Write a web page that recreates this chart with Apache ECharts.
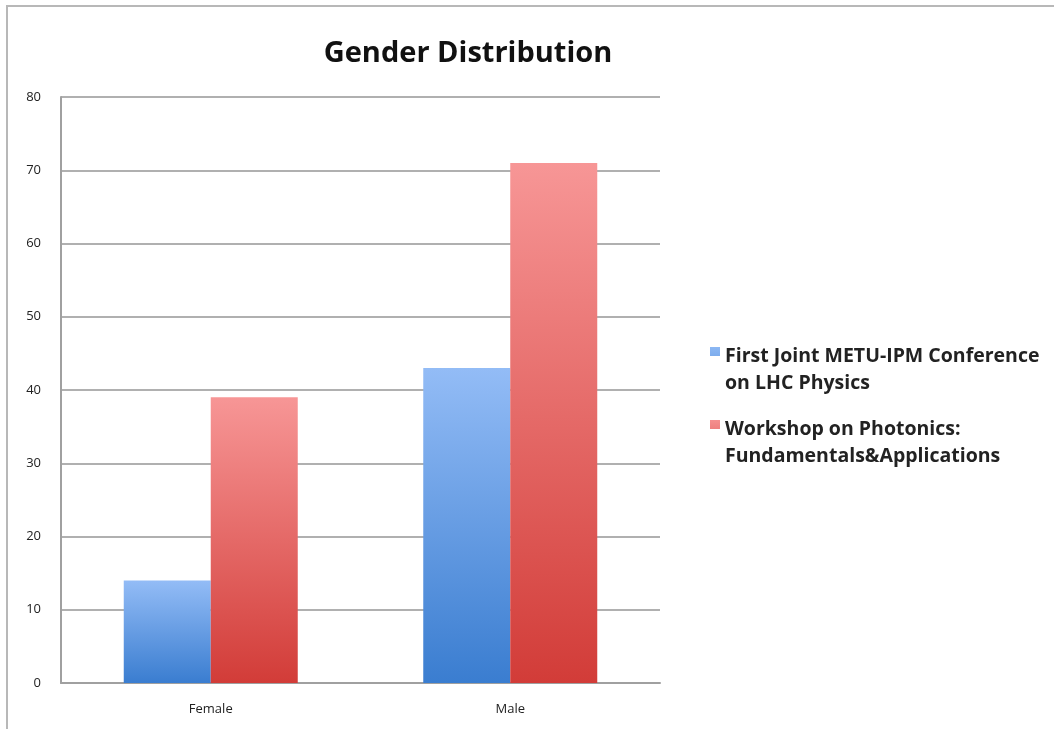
<!DOCTYPE html>
<html>
<head>
<meta charset="utf-8">
<script src="https://cdn.jsdelivr.net/npm/echarts@6/dist/echarts.min.js"></script>
<style>
  html, body { margin: 0; padding: 0; background: #fff; }
  #frame { position: absolute; left: 6px; top: 5px; width: 1048px; height: 724px;
           border-top: 2px solid #b8b8b8; border-left: 2px solid #b8b8b8; box-sizing: border-box; }
  #chart { position: absolute; left: 0; top: 0; width: 1054px; height: 729px; }
</style>
</head>
<body>
<div id="frame"></div>
<div id="chart"></div>
<script>
// Attendance by gender for two events
const categories = ['Female', 'Male'];
const seriesNames = [
  'First Joint METU-IPM Conference\non LHC Physics',
  'Workshop on Photonics:\nFundamentals&Applications'
];
const conferenceValues = [14, 43];
const workshopValues = [39, 71];
const yTicks = { min: 0, max: 80, interval: 10 };

function vGrad(top, bottom) {
  return new echarts.graphic.LinearGradient(0, 0, 0, 1, [
    { offset: 0, color: top },
    { offset: 1, color: bottom }
  ]);
}

// Legend swatch sits beside the first text line: small square at the top of a tall box
const swatch = 'path://M0,0L0,0M0,4L10,4L10,13L0,13ZM0,54L0,54';

const chart = echarts.init(document.getElementById('chart'), null, { renderer: 'canvas' });
chart.setOption({
  backgroundColor: 'transparent',
  animation: false,
  title: {
    text: 'Gender Distribution',
    left: 463,
    top: 34,
    textAlign: 'center',
    textStyle: { fontFamily: 'Open Sans', fontWeight: 'bold', fontSize: 29, color: '#111' }
  },
  grid: { left: 61, top: 97, width: 599, height: 586, containLabel: false },
  legend: {
    orient: 'vertical',
    left: 705,
    top: 338,
    itemWidth: 10,
    itemHeight: 54,
    itemGap: 19,
    icon: swatch,
    textStyle: { fontFamily: 'Open Sans', fontWeight: 'bold', fontSize: 19.5, color: '#222', lineHeight: 27 },
    data: seriesNames
  },
  xAxis: {
    type: 'category',
    data: categories,
    axisLine: { lineStyle: { color: '#a0a0a0', width: 2 } },
    axisTick: { show: false },
    axisLabel: { fontFamily: 'Open Sans', fontSize: 13, color: '#222', margin: 20 }
  },
  yAxis: {
    type: 'value',
    min: yTicks.min,
    max: yTicks.max,
    interval: yTicks.interval,
    axisLine: { show: true, lineStyle: { color: '#a0a0a0', width: 2 } },
    axisTick: { show: false },
    axisLabel: { fontFamily: 'Open Sans', fontSize: 13, color: '#222', margin: 20, align: 'right' },
    splitLine: { lineStyle: { color: '#b0b0b0', width: 2 } }
  },
  series: [
    {
      name: seriesNames[0],
      type: 'bar',
      data: conferenceValues,
      barWidth: 87,
      barGap: '0%',
      itemStyle: { color: vGrad('#93bcf6', '#3a7dd0') }
    },
    {
      name: seriesNames[1],
      type: 'bar',
      data: workshopValues,
      barWidth: 87,
      barGap: '0%',
      itemStyle: { color: vGrad('#f79696', '#d23c38') }
    }
  ]
});
</script>
</body>
</html>
